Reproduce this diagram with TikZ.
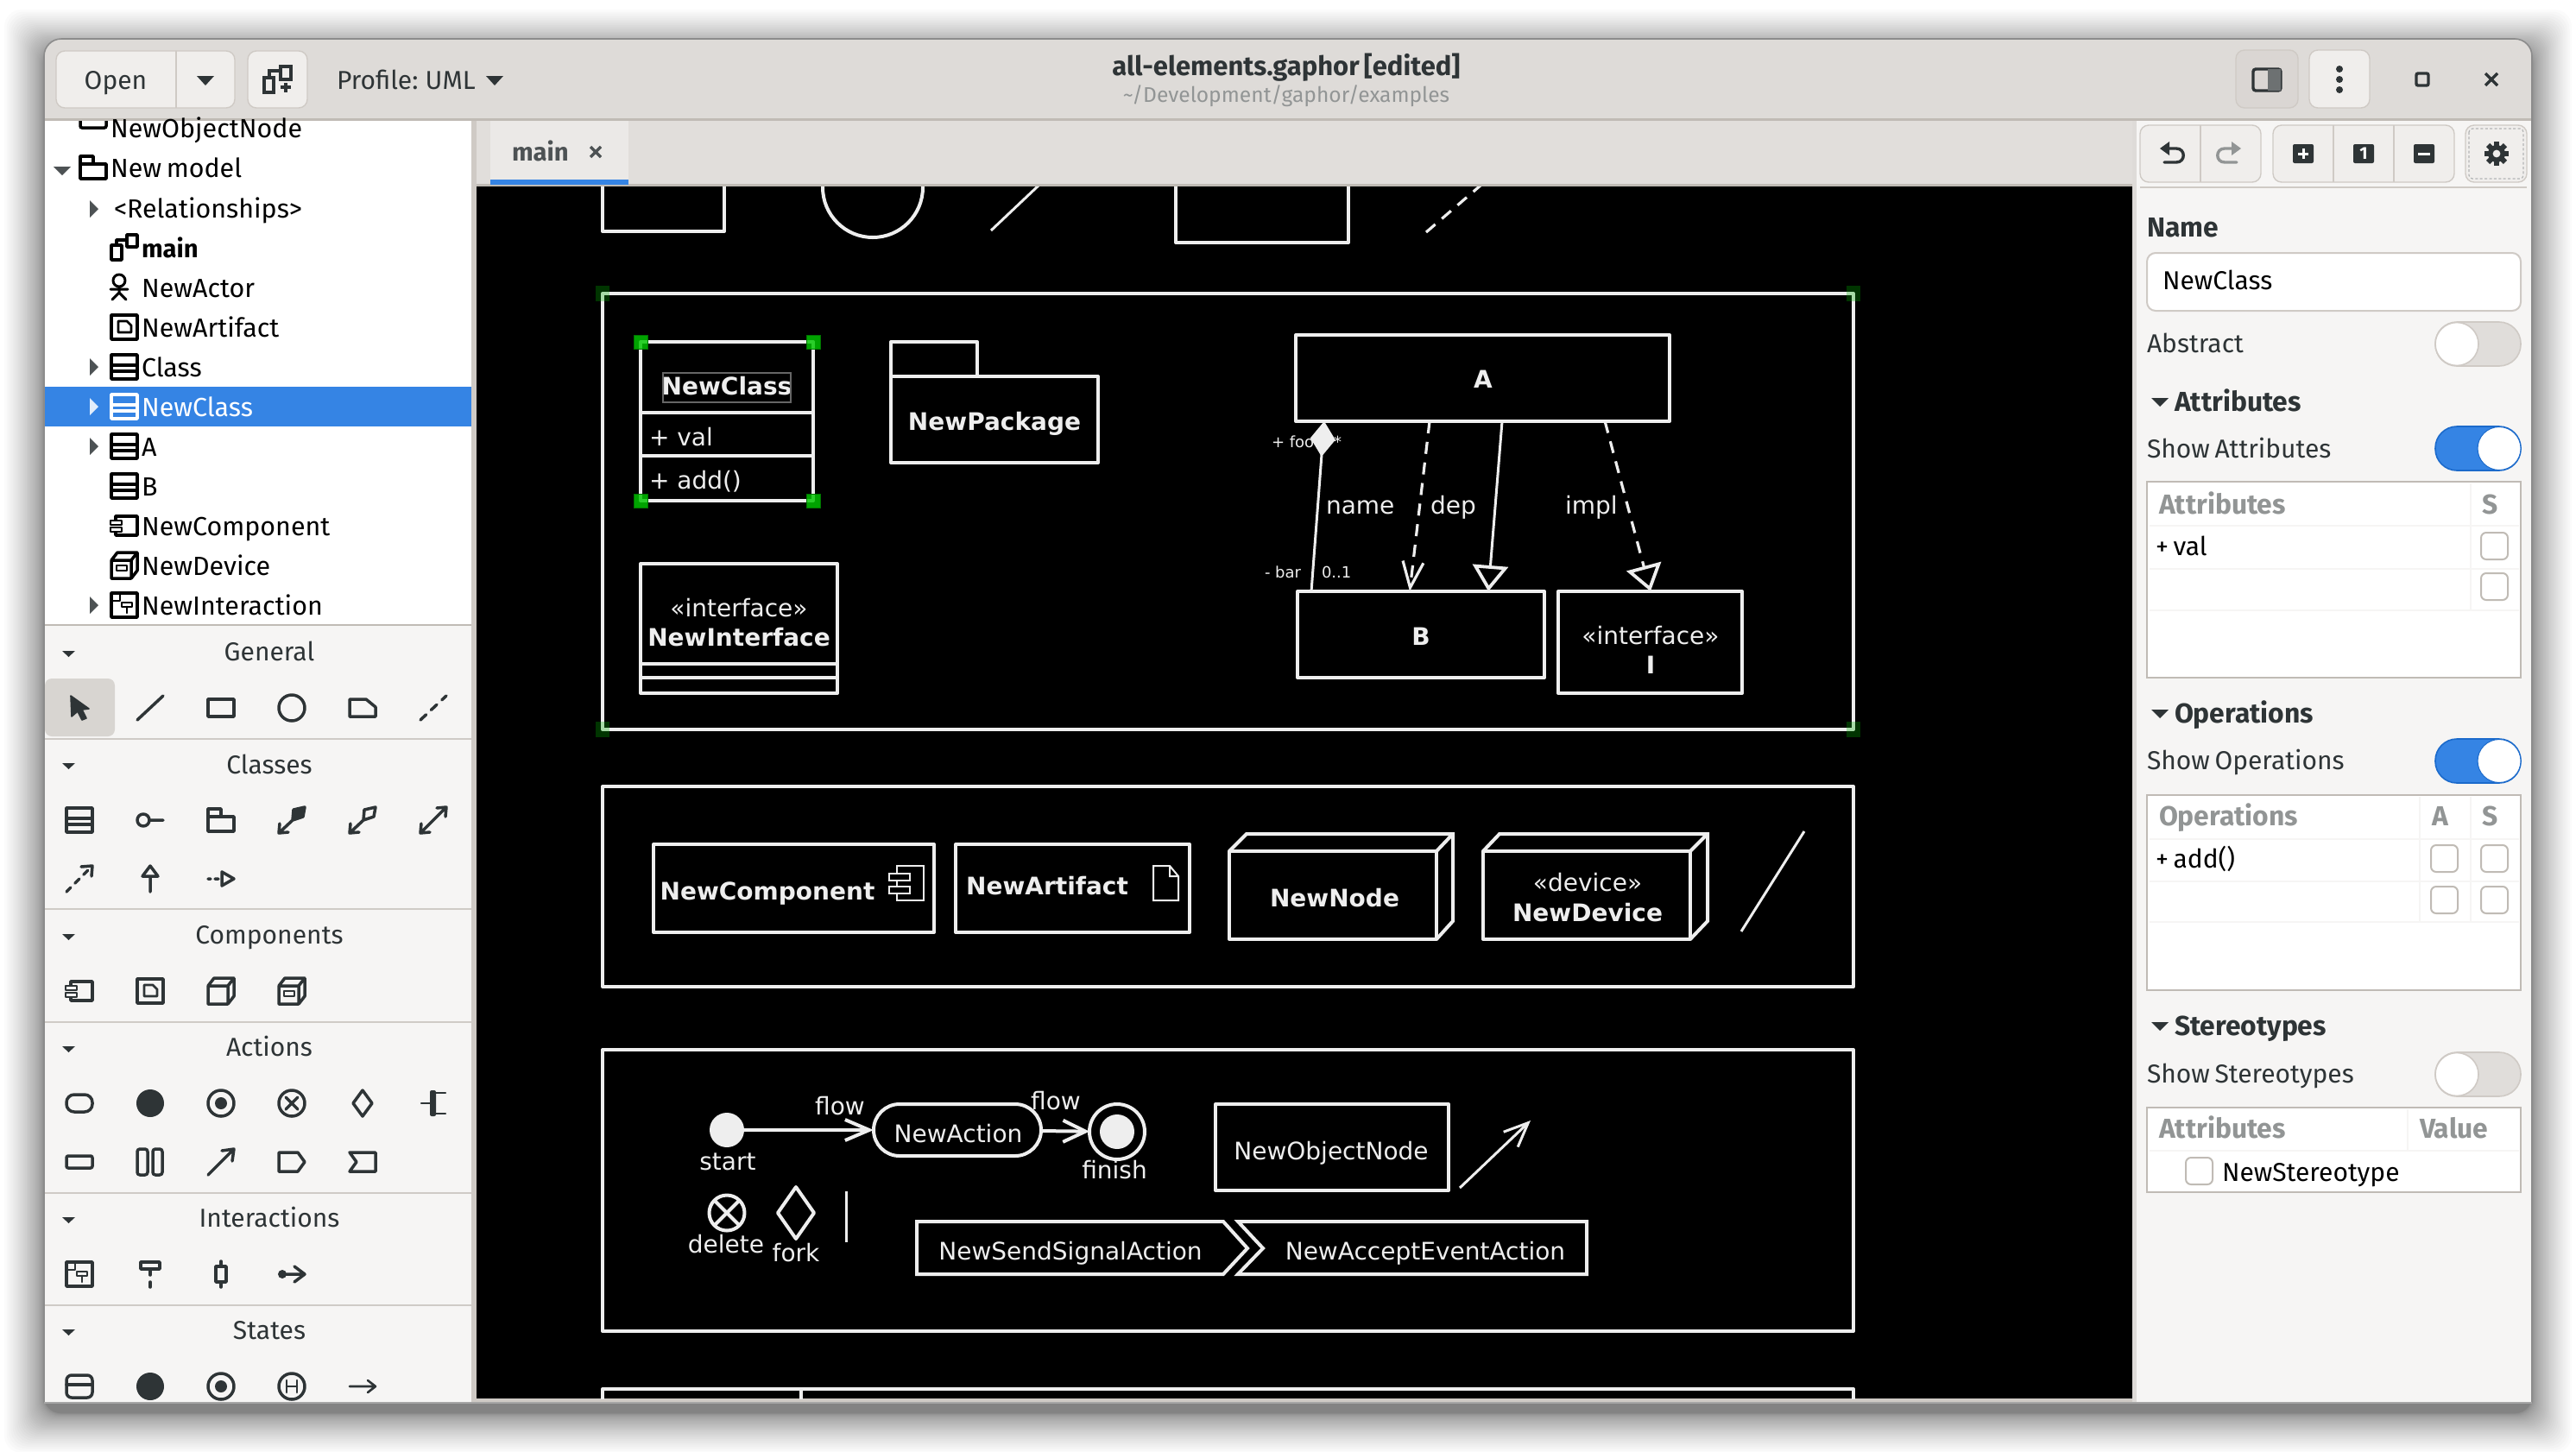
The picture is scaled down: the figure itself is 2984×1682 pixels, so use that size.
\documentclass[tikz,border=0pt]{standalone}
\usepackage{fontspec}
\setmainfont{Fira Sans}[WordSpace=0.7]
\newfontfamily\cvfont{DejaVu Sans}
\usetikzlibrary{arrows.meta,shapes.misc,shapes.geometric,calc}
\definecolor{hdr}{HTML}{DEDBD8}
\definecolor{brd}{HTML}{C0BBB5}
\definecolor{pnl}{HTML}{F6F5F4}
\definecolor{tabs}{HTML}{E1DEDB}
\definecolor{tabon}{HTML}{EBE9E7}
\definecolor{ink}{HTML}{2E3436}
\definecolor{sel}{HTML}{3584E4}
\definecolor{seld}{HTML}{1B6ACB}
\definecolor{cw}{HTML}{EEEEEE}
\definecolor{btnf}{HTML}{F0EEEC}
\definecolor{btnd}{HTML}{CFCAC5}
\definecolor{grey}{HTML}{929595}
\definecolor{sep}{HTML}{CFCBC6}
\definecolor{hgreen}{HTML}{00C800}
\colorlet{iccol}{black}
\tikzset{
  ic/.style={color=iccol,line width=1.75pt,line join=round,line cap=round},
  ui/.style={inner sep=0pt,outer sep=0pt,anchor=base west,text=ink,font=\fontsize{15}{17}\selectfont},
  uic/.style={ui,anchor=base},
  uib/.style={ui,font=\fontsize{15.9}{17}\selectfont\bfseries},
  tree/.style={ui,text=black,font=\fontsize{15.2}{17}\selectfont},
  pal/.style={uic},
  gry/.style={uib,text=grey},
  cbox/.style={draw=cw,line width=2pt,line join=round,inner sep=0pt,outer sep=0pt,text=cw,font=\cvf,anchor=north west},
  clab/.style={inner sep=0pt,outer sep=0pt,text=cw,anchor=base,font=\cvf},
  clabb/.style={clab,font=\cvb},
  slab/.style={clab,font=\fontsize{9}{10}\cvfont\selectfont,anchor=base west},
  rel/.style={draw=cw,line width=1.5pt},
  depl/.style={rel,line width=1.6pt,dash pattern=on 7pt off 5pt},
  thk/.style={draw=cw,line width=2pt},
  hnd/.style={fill=hgreen,fill opacity=.82,draw=green!45!black,line width=.5pt},
  hndd/.style={fill=green!70!black,fill opacity=.3,draw=none},
}
\newcommand{\cvf}{\fontsize{14}{16}\cvfont\selectfont}
\newcommand{\cvb}{\fontsize{14}{16}\cvfont\bfseries\selectfont}
% icons
\newcommand{\icoObj}[2]{\begin{scope}[shift={(#1,#2)},ic]\draw[rounded corners=1pt] (-15,-7) rectangle (15,7);\end{scope}}
\newcommand{\icoPkg}[2]{\begin{scope}[shift={(#1,#2)},ic]\draw (-15,13)--(-15,-13)--(0,-13)--(0,-4)--(15,-4)--(15,13)--cycle (-15,-4)--(0,-4);\end{scope}}
\newcommand{\icoClass}[2]{\begin{scope}[shift={(#1,#2)},ic]\draw (-15,-14) rectangle (15,14) (-15,-2)--(15,-2) (-15,5)--(15,5);\end{scope}}
\newcommand{\icoArt}[2]{\begin{scope}[shift={(#1,#2)},ic]\draw (-15,-14) rectangle (15,14);\draw[line width=1.4pt] (-7,-7)--(3,-7)--(8,-2)--(8,6)--(-7,6)--cycle;\end{scope}}
\newcommand{\icoComp}[2]{\begin{scope}[shift={(#1,#2)},ic]\draw (-10,-7)--(-10,-11)--(15,-11)--(15,11)--(-10,11)--(-10,8);\draw[line width=1.4pt] (-16,-6) rectangle (-3,-1) (-16,2) rectangle (-3,7);\end{scope}}
\newcommand{\icoNode}[2]{\begin{scope}[shift={(#1,#2)},ic]\draw (-15,-6) rectangle (8,15) (-15,-6)--(-8,-15)--(15,-15)--(15,6)--(8,15) (8,-6)--(15,-15);\end{scope}}
\newcommand{\icoDev}[2]{\begin{scope}[shift={(#1,#2)},ic]\draw (-15,-6) rectangle (8,15) (-15,-6)--(-8,-15)--(15,-15)--(15,6)--(8,15) (8,-6)--(15,-15);\draw[line width=1.3pt] (-9,0) rectangle (3,6);\end{scope}}
\newcommand{\icoInter}[2]{\begin{scope}[shift={(#1,#2)},ic]\draw (-15,-14) rectangle (15,14);\draw[line width=1.4pt] (-15,-5)--(-5,-5)--(-5,-14) (-3,-3) rectangle (9,2) (3,2)--(3,9);\end{scope}}
\newcommand{\icoFin}[2]{\begin{scope}[shift={(#1,#2)},ic]\draw (0,0) circle[radius=7.5pt];\fill (0,0) circle[radius=3.5pt];\end{scope}}
\newcommand{\chk}[2]{\fill[white,draw=brd,line width=1pt,rounded corners=3pt] (#1,#2) rectangle ++(31,31);}
\newcommand{\swoff}[2]{\fill[hdr!95!white,draw=btnd,line width=.8pt,rounded corners=12.5pt] (#1,#2) rectangle ++(99,51);\fill[white,draw=btnd,line width=.8pt] (#1+25,#2+25.5) circle[radius=12.5pt];}
\newcommand{\swon}[2]{\fill[sel,draw=seld,line width=.8pt,rounded corners=12.5pt] (#1,#2) rectangle ++(99,51);\fill[white,draw=seld,line width=.5pt] (#1+74,#2+25.5) circle[radius=12.5pt];}
\newcommand{\trid}[2]{\fill (#1-10,#2-5)--(#1+10,#2-5)--(#1,#2+5)--cycle;}
\newcommand{\trir}[2]{\fill (#1-5,#2-10)--(#1+5,#2)--(#1-5,#2+10)--cycle;}
\begin{document}
\begin{tikzpicture}[x=0.5pt,y=-0.5pt]
\useasboundingbox (0,0) rectangle (2984,1682);
\fill[white] (0,0) rectangle (2984,1682);
% shadow: dense near the window, sparse further out
\foreach \i in {1,...,36}{
  \pgfmathsetmacro{\dd}{46*(\i/36)*(\i/36)}
  \fill[black,fill opacity=.016,rounded corners=10pt] ({51-\dd},{57-\dd}) rectangle ({2933+\dd},{1637+\dd});
}
% window
\begin{scope}
\clip[rounded corners=10pt] (51,1700)--(51,45)--(2933,45)--(2933,1700)--cycle;
\clip (0,0) rectangle (2984,1625);
\fill[pnl] (51,45) rectangle (2933,1625);
% header
\fill[hdr] (51,45) rectangle (2933,139);
\fill[brd] (51,137) rectangle (2933,140);
% left tree
\fill[white] (51,140) rectangle (546,724);
\fill[brd] (51,723) rectangle (546,725);
\fill[sel] (51,448) rectangle (546,494);
% dividers
\fill[btnd] (546,140) rectangle (552,1625);
% tab strip
\fill[tabs] (552,140) rectangle (2470,213);
\fill[brd] (552,213) rectangle (2470,216);
\fill[tabon] (568,140) rectangle (728,208);
\fill[sel] (568,208) rectangle (728,214);
% canvas
\fill[black] (552,216) rectangle (2470,1620);
\fill[btnd] (552,1620) rectangle (2470,1625);
\fill[hdr] (2470,140) rectangle (2475,1625);
% palette separators
\foreach \yy in {855,1052,1183,1381,1511}{\fill[sep] (51,\yy) rectangle (546,\yy+2);}
\fill[hdr!80!brd,rounded corners=4pt] (52,786) rectangle (133,853);
% CANVAS
\begin{scope}
\clip (552,216) rectangle (2470,1620);
% clipped shapes on top
\node[cbox,anchor=south west,minimum width=70.5pt,minimum height=50pt] (topa) at (698,268) {};
\node[cbox,circle,anchor=center,minimum size=58pt] (topb) at (1011,217) {};
\coordinate (topc1) at (1148,267); \coordinate (topc2) at (1204,214);
\draw[rel] (topc1)--(topc2);
\node[cbox,anchor=south west,minimum width=100pt,minimum height=50pt] (topd) at (1362,281) {};
\coordinate (tope1) at (1652,269); \coordinate (tope2) at (1716,214);
\draw[depl] (tope1)--(tope2);
% frame 1
\node[cbox,minimum width=724.5pt,minimum height=252.5pt] (frameA) at (698,340) {};
\node[cbox,minimum width=100pt,minimum height=92pt] (nclass) at (742,396) {};
\draw[thk] (742,478)--(942,478) (742,528)--(942,528);
\node[clabb] (nclassn) at (842,457) {NewClass};
\draw[white!40!black,line width=.6pt] (768,432) rectangle (916,466);
\node[clab,anchor=base west] (nclassa) at (752,516) {+ val};
\node[clab,anchor=base west] (nclasso) at (752,566) {+ add()};
\node[cbox,minimum width=50pt,minimum height=20pt] (pkgtab) at (1032,396) {};
\node[cbox,minimum width=120pt,minimum height=50pt] (pkg) at (1032,436) {};
\node[clabb] (pkgn) at (1152,498) {NewPackage};
\node[cbox,minimum width=114pt,minimum height=75pt] (iface) at (742,653) {};
\draw[thk] (742,769)--(970,769) (742,785)--(970,785);
\node[clab] (ifaces) at (856,714) {«interface»};
\node[clabb] (ifacen) at (856,748) {NewInterface};
\node[cbox,minimum width=216.5pt,minimum height=50pt] (clsA) at (1501,388) {};
\node[clabb] (clsAn) at (1718,449) {A};
\node[cbox,minimum width=143pt,minimum height=50pt] (clsB) at (1503,685) {};
\node[clabb] (clsBn) at (1646,747) {B};
\node[cbox,minimum width=106.5pt,minimum height=59pt] (clsI) at (1805,685) {};
\node[clab] (clsIs) at (1912,746) {«interface»};
\node[clabb] (clsIn) at (1912,780) {I};
\node[slab] (foo) at (1473,518) {+ foo};
\node[slab] (star) at (1545,518) {*};
\node[slab] (bar) at (1465,669) {- bar};
\node[slab] (mult) at (1531,669) {0..1};
\node[clab,anchor=base west] (lname) at (1536,595) {name};
\node[clab,anchor=base west] (ldep) at (1657,595) {dep};
\node[clab,anchor=base west] (limpl) at (1813,595) {impl};
\draw[rel,{Diamond[length=20.5pt,width=14.5pt]}-] ($(clsA.south west)!.076!(clsA.south east)$)--($(clsB.north west)!.056!(clsB.north east)$);
\draw[depl,-{Straight Barb[length=15pt,width=12pt,line width=1.6pt]}] ($(clsA.south west)!.358!(clsA.south east)$)--($(clsB.north west)!.4545!(clsB.north east)$);
\draw[rel,-{Triangle[open,length=15pt,width=20.5pt,line width=1.9pt,fill=black]}] ($(clsA.south west)!.552!(clsA.south east)$)--($(clsB.north west)!.773!(clsB.north east)$);
\draw[depl,-{Triangle[open,length=15pt,width=20.5pt,line width=1.9pt,fill=black]}] ($(clsA.south west)!.827!(clsA.south east)$)--($(clsI.north west)!.502!(clsI.north east)$);
% frame 2
\node[cbox,minimum width=724.5pt,minimum height=116pt] (frameB) at (698,911) {};
\node[cbox,minimum width=162.5pt,minimum height=51pt] (comp) at (757,978) {};
\node[clabb] (compn) at (889,1042) {NewComponent};
\draw[draw=cw,line width=1pt] (1039,1012)--(1039,1003)--(1070,1003)--(1070,1043)--(1039,1043)--(1039,1035) (1039,1020)--(1039,1027);
\draw[draw=cw,line width=1pt] (1030,1012) rectangle (1054,1020) (1030,1027) rectangle (1054,1035);
\node[cbox,minimum width=135.5pt,minimum height=51pt] (art) at (1107,978) {};
\node[clabb] (artn) at (1213,1036) {NewArtifact};
\draw[draw=cw,line width=1pt] (1336,1003)--(1355,1003)--(1365,1015)--(1365,1043)--(1336,1043)--cycle (1355,1003)--(1355,1015)--(1365,1015);
\node[cbox,minimum width=120pt,minimum height=51pt] (nnode) at (1424,986) {};
\draw[thk] (1424,986)--(1444,966)--(1683,966)--(1683,1067)--(1664,1088) (1664,986)--(1683,966);
\node[clabb] (nnoden) at (1546,1050) {NewNode};
\node[cbox,minimum width=120pt,minimum height=51pt] (ndev) at (1718,986) {};
\draw[thk] (1718,986)--(1737,966)--(1978,966)--(1978,1067)--(1958,1088) (1958,986)--(1978,966);
\node[clab] (ndevs) at (1839,1032) {«device»};
\node[clabb] (ndevn) at (1839,1067) {NewDevice};
\coordinate (lna) at (2017,1079); \coordinate (lnb) at (2090,963);
\draw[rel] (lna)--(lnb);
% frame 3
\node[cbox,minimum width=724.5pt,minimum height=163pt] (frameC) at (698,1216) {};
\node[circle,fill=cw,minimum size=20pt,inner sep=0pt,outer sep=0pt] (startn) at (842,1309) {};
\node[clab] (startl) at (843,1355) {start};
\node[cbox,rounded rectangle,minimum width=97pt,minimum height=30pt,anchor=center] (action) at (1109,1309) {};
\node[clab] (actionl) at (1110,1323) {NewAction};
\node[cbox,circle,minimum size=32pt,anchor=center] (finalo) at (1294,1311) {};
\node[circle,fill=cw,minimum size=20pt,inner sep=0pt] (finali) at (1294,1311) {};
\node[clab] (finishl) at (1291,1365) {finish};
\node[clab] (flowa) at (973,1291) {flow};
\node[clab] (flowb) at (1223,1285) {flow};
\draw[thk,-{Straight Barb[length=14pt,width=12pt,line width=2pt]}] (startn)--(action);
\draw[thk,-{Straight Barb[length=13pt,width=12.5pt,line width=2pt]}] (action)--(finalo);
\node[cbox,minimum width=135pt,minimum height=50pt] (objn) at (1408,1279) {};
\node[clab] (objl) at (1542,1343) {NewObjectNode};
\coordinate (ara) at (1691,1376); \coordinate (arb) at (1773,1298);
\draw[rel,-{Straight Barb[length=14pt,width=12pt,line width=1.5pt]}] (ara)--(arb);
\node[cbox,circle,minimum size=20.5pt,anchor=center] (del) at (842,1405) {};
\draw[thk] (del.north west)--(del.south east) (del.north east)--(del.south west);
\node[clab] (dell) at (841,1451) {delete};
\node[cbox,diamond,minimum width=21pt,minimum height=30pt,anchor=center] (forkn) at (922,1405) {};
\node[clab] (forkl) at (922,1461) {fork};
\coordinate (bara) at (980,1380); \coordinate (barb) at (980,1439);
\draw[rel] (bara)--(barb);
\draw[thk] (1062,1415)--(1417,1415)--(1445,1446)--(1417,1476)--(1062,1476)--cycle;
\node[clab] (sendl) at (1240,1459) {NewSendSignalAction};
\draw[thk] (1434,1415)--(1838,1415)--(1838,1476)--(1434,1476)--(1463,1446)--cycle;
\node[clab] (accl) at (1651,1459) {NewAcceptEventAction};
% frame 4
\node[cbox,minimum width=724.5pt,minimum height=40pt] (frameD) at (698,1609) {};
\draw[thk] (928,1609)--(928,1640);
% handles
\foreach \hx/\hy in {698/340,2147/340,698/845,2147/845}{\path[hndd] (\hx-8,\hy-9) rectangle (\hx+8,\hy+9);}
\foreach \hx/\hy in {742/396,942/396,742/580,942/580}{\path[hnd] (\hx-8,\hy-8) rectangle (\hx+8,\hy+8);}
\end{scope}
% HEADER
\fill[btnf,draw=btnd,line width=.7pt,rounded corners=5pt] (65,59) rectangle (272,125);
\draw[btnd,line width=.7pt] (204,59)--(204,125);
\fill[btnf,draw=btnd,line width=.7pt,rounded corners=5pt] (287,59) rectangle (356,125);
\node[uic] (open) at (134,103) {Open};
\fill[ink] (228,88)--(248,88)--(238,99)--cycle;
\begin{scope}[color=ink,line width=1.7pt]
\draw (306,90) rectangle (317,107) (325,77) rectangle (337,92);
\draw (312,90)--(312,82)--(325,82);
\draw (331,96)--(331,107) (325,101)--(337,101);
\end{scope}
\node[ui] (prof) at (390,103) {Profile: UML};
\fill[ink] (563,88)--(583,88)--(573,99)--cycle;
\node[uib,anchor=base,font=\fontsize{15.5}{17}\selectfont\bfseries] (title) at (1490,87) {all-elements.gaphor [edited]};
\node[uic,font=\fontsize{12.3}{15}\selectfont,text=grey] (subt) at (1490,118) {\textasciitilde/Development/gaphor/examples};
\fill[hdr!85!brd,draw=btnd,line width=.7pt,rounded corners=5pt] (2590,58) rectangle (2662,125);
\fill[btnf,draw=btnd,line width=.7pt,rounded corners=5pt] (2675,58) rectangle (2745,125);
\draw[ink,line width=1.7pt,rounded corners=1.5pt] (2610,105) rectangle (2642,80);
\fill[ink!70] (2627,80) rectangle (2642,105);
\foreach \ky in {80,92,104}{\fill[ink] (2710,\ky) circle[radius=2pt];}
\draw[ink,line width=1.7pt,rounded corners=1pt] (2799,85) rectangle (2813,99);
\draw[ink,line width=1.7pt] (2879,85)--(2893,99) (2893,85)--(2879,99);
% tab label
\node[uib,anchor=base west,text=ink!85,font=\fontsize{14.6}{17}\selectfont\bfseries] (tabl) at (593,186) {main};
\draw[ink!85,line width=1.7pt] (684,170)--(696,182) (696,170)--(684,182);
% TREE
\colorlet{iccol}{black}
\begin{scope}
\clip (51,140) rectangle (546,724);
\draw[black,line width=1.75pt,rounded corners=1pt] (93,120) rectangle (123,148);
\end{scope}
\icoPkg{108}{194}
\begin{scope}[ic,color=black]
\draw (129,284) rectangle (141,301) (147,272) rectangle (159,286) (135,284)--(135,278)--(147,278);
\end{scope}
\begin{scope}[ic,color=black,line width=1.5pt]
\draw (138,325) circle[radius=3.5pt] (138,332)--(138,339) (128,335)--(148,335) (130,347)--(138,339)--(146,347);
\end{scope}
\icoArt{144}{379}\icoClass{144}{425}\icoClass{144}{517}\icoClass{144}{563}\icoComp{144}{609}\icoDev{144}{655}\icoInter{144}{701}
\colorlet{iccol}{white}\icoClass{144}{471}
\node[tree] (t0) at (128,159) {NewObjectNode};
\node[tree] (t1) at (128,205) {New model};
\node[tree] (t2) at (132,252) {<Relationships>};
\node[tree,font=\fontsize{14.6}{17}\selectfont\bfseries] (t3) at (164,298) {main};
\node[tree] (t4) at (164,344) {NewActor};
\node[tree] (t5) at (164,390) {NewArtifact};
\node[tree] (t6) at (164,436) {Class};
\node[tree,text=white] (t7) at (164,482) {NewClass};
\node[tree] (t8) at (164,528) {A};
\node[tree] (t9) at (164,574) {B};
\node[tree] (t10) at (164,620) {NewComponent};
\node[tree] (t11) at (164,666) {NewDevice};
\node[tree] (t12) at (164,712) {NewInteraction};
\begin{scope}[color=ink!85]
\trid{72}{198}\trir{109}{242}\trir{109}{425}\trir{109}{517}\trir{109}{701}
\end{scope}
\begin{scope}[color=white!85!sel]\trir{109}{471}\end{scope}
% PALETTE
\colorlet{iccol}{ink}
\node[pal] (pg) at (312,765) {General};
\node[pal] (pc) at (312,896) {Classes};
\node[pal] (pk) at (312,1093) {Components};
\node[pal] (pa) at (312,1223) {Actions};
\node[pal] (pi) at (312,1421) {Interactions};
\node[pal] (ps) at (312,1551) {States};
\begin{scope}[color=ink]
\foreach \ty in {757,887,1085,1215,1413,1543}{\fill (72,\ty-3)--(87,\ty-3)--(79.5,\ty+4)--cycle;}
\end{scope}
% general
\begin{scope}[shift={(92,820)},ic]\fill (-10,-14)--(11,1)--(3,2)--(8,12)--(3,14)--(-2,4)--(-9,10)--cycle;\draw[line width=.8pt] (-10,-14)--(11,1)--(3,2)--(8,12)--(3,14)--(-2,4)--(-9,10)--cycle;\end{scope}
\begin{scope}[shift={(174,820)},ic]\draw (-15,14)--(15,-14);\end{scope}
\begin{scope}[shift={(256,820)},ic]\draw (-15,-10) rectangle (15,10);\end{scope}
\begin{scope}[shift={(338,820)},ic]\draw (0,0) circle[radius=7.5pt];\end{scope}
\begin{scope}[shift={(420,820)},ic]\draw (-15,-10)--(4,-10)--(15,-1)--(15,10)--(-15,10)--cycle;\end{scope}
\begin{scope}[shift={(502,820)},ic]\draw[dash pattern=on 4.5pt off 4pt] (-15,14)--(15,-14);\end{scope}
% classes
\icoClass{92}{950}
\begin{scope}[shift={(174,950)},ic]\draw (-8,0) circle[radius=3.5pt] (-1,0)--(15,0);\end{scope}
\icoPkg{256}{950}
\begin{scope}[shift={(338,950)},ic]\fill (15,-15)--(13,-4)--(1,0)--(2,-12)--cycle;\draw (15,-15)--(13,-4)--(1,0)--(2,-12)--cycle (1,0)--(-15,15) (-14,4)--(-15,15)--(-4,14);\end{scope}
\begin{scope}[shift={(420,950)},ic]\draw (15,-15)--(13,-4)--(1,0)--(2,-12)--cycle (1,0)--(-15,15) (-14,4)--(-15,15)--(-4,14);\end{scope}
\begin{scope}[shift={(502,950)},ic]\draw (-15,15)--(15,-15) (-14,4)--(-15,15)--(-4,14) (4,-14)--(15,-15)--(14,-4);\end{scope}
\begin{scope}[shift={(92,1018)},ic]\draw[dash pattern=on 3.5pt off 3.5pt] (-15,15)--(13,-13);\draw (2,-14)--(15,-15)--(14,-3);\end{scope}
\begin{scope}[shift={(174,1018)},ic]\draw (-9,-3)--(0,-15)--(9,-3)--cycle (0,-3)--(0,15);\end{scope}
\begin{scope}[shift={(256,1018)},ic]\draw (-15,0)--(-12,0) (-7,0)--(-3,0) (1,-8)--(15,0)--(1,8)--cycle;\end{scope}
% components
\icoComp{92}{1148}\icoArt{174}{1148}\icoNode{256}{1148}\icoDev{338}{1148}
% actions
\begin{scope}[shift={(92,1278)},ic]\draw[rounded corners=4.5pt] (-15,-10) rectangle (15,10);\end{scope}
\begin{scope}[shift={(174,1278)},ic]\fill (0,0) circle[radius=8pt];\end{scope}
\icoFin{256}{1278}
\begin{scope}[shift={(338,1278)},ic]\draw (0,0) circle[radius=7.5pt] (-7,-7)--(7,7) (7,-7)--(-7,7);\end{scope}
\begin{scope}[shift={(420,1278)},ic]\draw (0,-15)--(11,0)--(0,15)--(-11,0)--cycle;\end{scope}
\begin{scope}[shift={(502,1278)},ic]\fill[rounded corners=1pt] (-4,-15) rectangle (3,15);\draw[line width=1.2pt] (-14,0)--(-3,0) (2,-12)--(14,-12) (2,12)--(14,12);\end{scope}
\icoObj{92}{1346}
\begin{scope}[shift={(174,1346)},ic]\draw[rounded corners=1.5pt] (-15,-15) rectangle (-3,15) (3,-15) rectangle (14,15);\end{scope}
\begin{scope}[shift={(256,1346)},ic]\draw (-15,15)--(15,-15) (1,-13)--(15,-15)--(13,-1);\end{scope}
\begin{scope}[shift={(338,1346)},ic]\draw (-15,-11)--(7,-11)--(15,0)--(7,11)--(-15,11)--cycle;\end{scope}
\begin{scope}[shift={(420,1346)},ic]\draw (-15,-11)--(15,-11)--(15,11)--(-15,11)--(-7,0)--cycle;\end{scope}
% interactions
\icoInter{92}{1476}
\begin{scope}[shift={(174,1476)},ic]\draw (-11,-14) rectangle (11,-6) (0,-6)--(0,1) (0,9)--(0,15);\end{scope}
\begin{scope}[shift={(256,1476)},ic]\draw (-6,-9) rectangle (6,9) (0,-15)--(0,-9) (0,9)--(0,15);\end{scope}
\begin{scope}[shift={(338,1476)},ic]\fill (-11,0) circle[radius=2.5pt];\draw (-11,0)--(15,0) (3,-9)--(15,0)--(3,9);\end{scope}
% states
\begin{scope}[shift={(92,1606)},ic]\draw[rounded corners=3pt] (-15,-13) rectangle (15,13);\draw (-15,-2)--(15,-2);\end{scope}
\begin{scope}[shift={(174,1606)},ic]\fill (0,0) circle[radius=8pt];\end{scope}
\icoFin{256}{1606}
\begin{scope}[shift={(338,1606)},ic]\draw (0,0) circle[radius=7.5pt];\draw[line width=1.3pt] (-6,-7)--(-6,7) (6,-7)--(6,7) (-6,0)--(6,0);\end{scope}
\begin{scope}[shift={(420,1606)},ic]\draw[line width=1.3pt] (-15,0)--(15,0) (6,-7)--(15,0)--(6,7);\end{scope}
% RIGHT PANEL toolbar
\fill[btnf,draw=btnd,line width=.7pt,rounded corners=5pt] (2479,145) rectangle (2619,211);
\draw[btnd,line width=.7pt] (2549,145)--(2549,211);
\fill[btnf,draw=btnd,line width=.7pt,rounded corners=5pt] (2633,145) rectangle (2843,211);
\draw[btnd,line width=.7pt] (2703,145)--(2703,211) (2773,145)--(2773,211);
\fill[btnf,draw=btnd,line width=.7pt,rounded corners=5pt] (2856,145) rectangle (2927,211);
\draw[grey!70,line width=.6pt,dash pattern=on 1.5pt off 1.2pt,rounded corners=2pt] (2860,149) rectangle (2923,207);
\draw[btnd,line width=.7pt] (2479,217)--(2927,217);
\draw[ink,line width=1.7pt,line cap=round] (2507,172)--(2521,172) .. controls (2532,172) and (2532,188) .. (2521,188)--(2507,188);
\fill[ink] (2502,172)--(2513,164)--(2513,180)--cycle;
\draw[grey,line width=1.7pt,line cap=round] (2591,172)--(2577,172) .. controls (2566,172) and (2566,188) .. (2577,188)--(2591,188);
\fill[grey] (2596,172)--(2585,164)--(2585,180)--cycle;
\fill[ink,rounded corners=1pt] (2656,167) rectangle (2680,189);
\draw[white,line width=1.5pt] (2668,172)--(2668,184) (2662,178)--(2674,178);
\fill[ink,rounded corners=1pt] (2726,167) rectangle (2750,189);
\node[inner sep=0pt,outer sep=0pt,text=white,font=\fontsize{10}{11}\selectfont\bfseries] (zone) at (2738,178) {1};
\fill[ink,rounded corners=1pt] (2796,167) rectangle (2820,189);
\draw[white,line width=1.5pt] (2801,178)--(2815,178);
\begin{scope}[shift={(2892,178)}]
\fill[ink] (0,0) circle[radius=5pt];
\foreach \a in {0,45,90,135}{\fill[ink,rotate=\a] (-3,-14) rectangle (3,14);}
\fill[btnf] (0,0) circle[radius=2.2pt];
\end{scope}
% Properties
\node[uib] (lname2) at (2487,274) {Name};
\fill[white,draw=btnd,line width=1pt,rounded corners=5pt] (2487,293) rectangle (2920,360);
\node[ui,text=black] (nametxt) at (2505,335) {NewClass};
\node[ui] (labs) at (2487,408) {Abstract};
\swoff{2821}{373}
\begin{scope}[color=ink]\trid{2502}{466}\end{scope}
\node[uib] (hattr) at (2519,476) {Attributes};
\node[ui] (lsa) at (2487,530) {Show Attributes};
\swon{2821}{494}
\fill[white,draw=brd,line width=1pt] (2487,558) rectangle (2920,785);
\draw[pnl,line width=1pt] (2490,609)--(2918,609) (2490,659)--(2918,659) (2490,707)--(2918,707) (2862,560)--(2862,707);
\node[gry] (ta) at (2501,595) {Attributes};
\node[gry] (ts) at (2875,595) {S};
\node[ui,text=black] (rval) at (2497,643) {+ val};
\chk{2874}{617}\chk{2874}{664}
\begin{scope}[color=ink]\trid{2502}{827}\end{scope}
\node[uib] (hops) at (2519,837) {Operations};
\node[ui] (lso) at (2487,891) {Show Operations};
\swon{2821}{856}
\fill[white,draw=brd,line width=1pt] (2487,921) rectangle (2920,1147);
\draw[pnl,line width=1pt] (2490,972)--(2918,972) (2490,1021)--(2918,1021) (2490,1068)--(2918,1068) (2803,923)--(2803,1068) (2862,923)--(2862,1068);
\node[gry] (to) at (2501,956) {Operations};
\node[gry] (toa) at (2817,956) {A};
\node[gry] (tos) at (2875,956) {S};
\node[ui,text=black] (radd) at (2497,1005) {+ add()};
\chk{2816}{979}\chk{2874}{979}\chk{2816}{1027}\chk{2874}{1027}
\begin{scope}[color=ink]\trid{2502}{1189}\end{scope}
\node[uib] (hst) at (2519,1199) {Stereotypes};
\node[ui] (lss) at (2487,1254) {Show Stereotypes};
\swoff{2821}{1219}
\fill[white,draw=brd,line width=1pt] (2487,1283) rectangle (2920,1381);
\draw[pnl,line width=1pt] (2490,1333)--(2918,1333) (2789,1285)--(2789,1333);
\node[gry] (tsa) at (2501,1318) {Attributes};
\node[gry] (tsv) at (2803,1318) {Value};
\chk{2532}{1341}
\node[ui,text=black] (nst) at (2574,1368) {NewStereotype};
\end{scope}
% window border
\draw[black!45,line width=.8pt,rounded corners=10pt] (51,1625)--(51,45)--(2933,45)--(2933,1625);
\draw[black!35,line width=.8pt] (51,1625)--(2933,1625);
\end{tikzpicture}
\end{document}
